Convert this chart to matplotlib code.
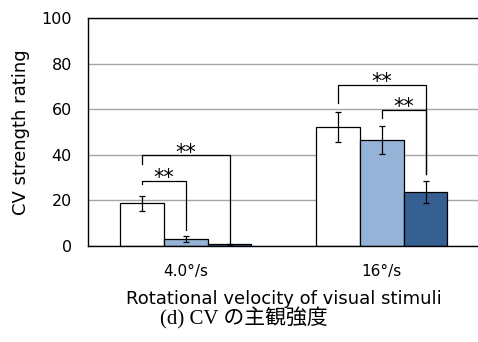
import numpy as np
import matplotlib.pyplot as plt

# data
groups = ['4.0°/s', '16°/s']
means_white = [18.5, 52.2]
means_light = [2.9, 46.4]
means_dark = [0.6, 23.7]
err_white = [3.3, 6.7]
err_light = [1.5, 6.2]
err_dark = [0.3, 4.8]

# significance brackets: (group, left bar, right bar, height, left leg end, right leg end)
brackets = [
    (0, 0, 1, 28.5, 27.0, 6.8),
    (0, 0, 2, 39.6, 35.7, 1.2),
    (1, 0, 2, 70.5, 62.5, 31.4),
    (1, 1, 2, 59.6, 55.9, 31.4),
]

fig = plt.figure(figsize=(4.78, 3.42), dpi=100)
ax = fig.add_axes([0.184, 0.282, 0.820, 0.665])

x = np.arange(len(groups))
w = 0.223
offsets = [-w, 0, w]
colors = ['white', '#95B3D7', '#366092']
series = [means_white, means_light, means_dark]
errs = [err_white, err_light, err_dark]

for off, c, m, e in zip(offsets, colors, series, errs):
    ax.bar(x + off, m, w, color=c, edgecolor='black', linewidth=0.9, zorder=2)
    ax.errorbar(x + off, m, yerr=e, fmt='none', ecolor='black',
                elinewidth=0.9, capsize=2.5, capthick=0.9, zorder=3)

for g, a, b, h, la, lb in brackets:
    xa = x[g] + offsets[a]
    xb = x[g] + offsets[b]
    ax.plot([xa, xa, xb, xb], [la, h, h, lb], color='black', lw=0.9, zorder=4)
    ax.text((xa + xb) / 2, h - 3.2, '**', ha='center', va='bottom',
            fontsize=15, zorder=5)

ax.set_xlim(-0.5, 1.5)
ax.set_ylim(0, 100)
ax.set_yticks([0, 20, 40, 60, 80, 100])
ax.set_xticks(x)
ax.set_xticklabels(groups, fontsize=11)
ax.tick_params(axis='y', labelsize=11.5, length=0, pad=11.5)
ax.tick_params(axis='x', length=0, pad=13)
ax.yaxis.grid(True, color='#A6A6A6', lw=1, zorder=0)
ax.set_axisbelow(True)
ax.spines['right'].set_visible(False)
for s in ['left', 'bottom', 'top']:
    ax.spines[s].set_linewidth(1)
    ax.spines[s].set_color('black')

ax.set_ylabel('CV strength rating', fontsize=13, labelpad=8)
ax.set_xlabel('Rotational velocity of visual stimuli', fontsize=13, labelpad=8)

fig.text(244 / 478, 1 - 318 / 342, '(d) CV の主観強度', ha='center', va='center',
         fontsize=15, family=['Liberation Serif', 'Noto Sans CJK JP'])

fig.savefig('out.png', dpi=100)
